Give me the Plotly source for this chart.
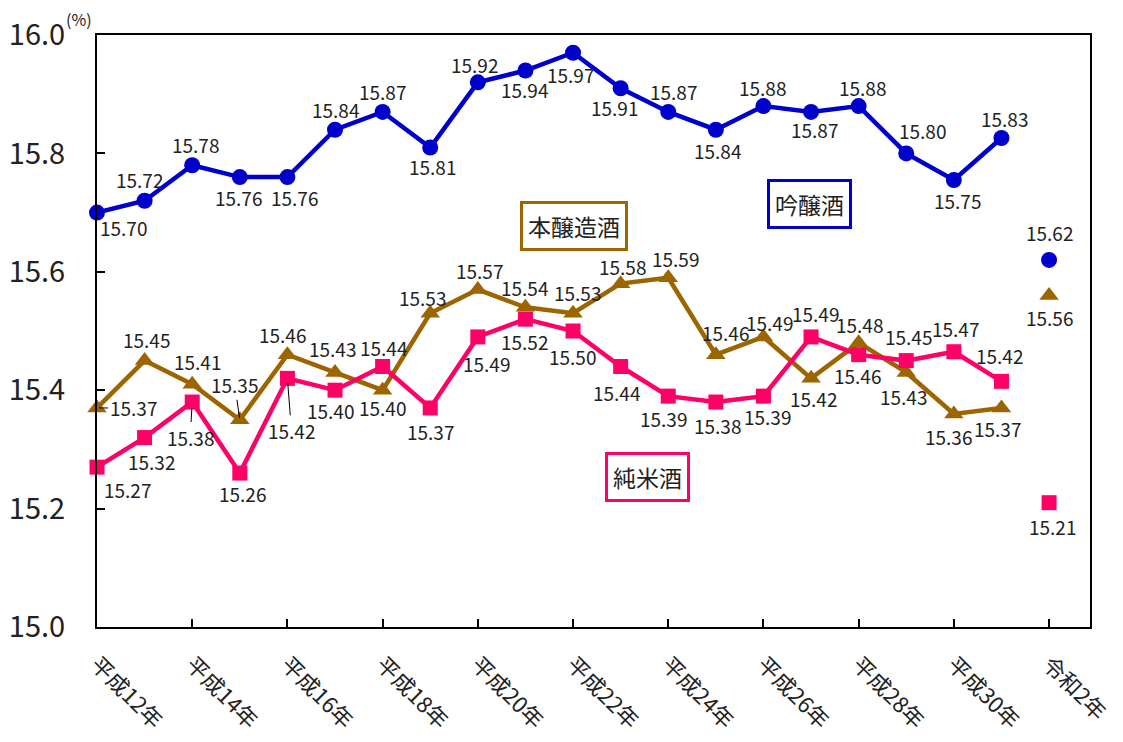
import plotly.graph_objects as go

categories = ["平成12年", "平成13年", "平成14年", "平成15年", "平成16年", "平成17年", "平成18年",
              "平成19年", "平成20年", "平成21年", "平成22年", "平成23年", "平成24年", "平成25年",
              "平成26年", "平成27年", "平成28年", "平成29年", "平成30年", "令和元年", "令和2年"]
tick_labels = ["平成12年", "平成14年", "平成16年", "平成18年", "平成20年", "平成22年",
               "平成24年", "平成26年", "平成28年", "平成30年", "令和2年"]

ginjo = [15.70, 15.72, 15.78, 15.76, 15.76, 15.84, 15.87, 15.81, 15.92, 15.94, 15.97,
         15.91, 15.87, 15.84, 15.88, 15.87, 15.88, 15.80, 15.755, 15.826, 15.62]
ginjo_text = ["15.70", "15.72", "15.78", "15.76", "15.76", "15.84", "15.87", "15.81", "15.92", "15.94", "15.97",
              "15.91", "15.87", "15.84", "15.88", "15.87", "15.88", "15.80", "15.75", "15.83", "15.62"]

honjozo = [15.37, 15.45, 15.41, 15.35, 15.46, 15.43, 15.40, 15.53, 15.57, 15.54, 15.53,
           15.58, 15.59, 15.46, 15.49, 15.42, 15.48, 15.43, 15.36, 15.37, 15.56]
honjozo_text = ["15.37", "15.45", "15.41", "15.35", "15.46", "15.43", "15.40", "15.53", "15.57", "15.54", "15.53",
                "15.58", "15.59", "15.46", "15.49", "15.42", "15.48", "15.43", "15.36", "15.37", "15.56"]

junmai = [15.27, 15.32, 15.38, 15.26, 15.42, 15.40, 15.44, 15.37, 15.49, 15.52, 15.50,
          15.44, 15.39, 15.38, 15.39, 15.49, 15.46, 15.45, 15.465, 15.415, 15.21]
junmai_text = ["15.27", "15.32", "15.38", "15.26", "15.42", "15.40", "15.44", "15.37", "15.49", "15.52", "15.50",
               "15.44", "15.39", "15.38", "15.39", "15.49", "15.46", "15.45", "15.47", "15.42", "15.21"]

# label offsets in pixels (dx, dy), and which labels have leader lines
ginjo_off = [(26, 15), (-5, -21), (3, -21), (-1, 20), (7, 20), (0, -20), (0, -20), (2, 19), (-3, -18),
             (-1, 19), (-3, 22), (-6, 19), (5, -20), (2, 21), (-1, -19), (3, 18), (4, -19), (16, -23),
             (4, 20), (3, -20), (0, -27)]
honjozo_off = [(36, 0), (2, -21), (5, -23), (-5, -35), (-5, -20), (-3, -24), (0, 17), (-8, -16), (2, -19),
               (-1, -20), (4, -21), (2, -17), (7, -19), (10, -22), (6, -14), (2, 20), (1, -18), (-3, 24),
               (-5, 23), (-4, 21), (0, 22)]
junmai_off = [(30, 22), (7, 24), (-2, 35), (3, 20), (4, 52), (-5, 20), (1, -19), (0, 24), (9, 27),
              (-1, 22), (-1, 25), (-4, 26), (-5, 22), (2, 23), (4, 20), (4, -23), (-1, 21), (2, -24),
              (2, -23), (-2, -26), (3, 24)]
honjozo_leader = {0: 2, 3: 2}
junmai_leader = {2: 6, 4: 5}

BLUE = "#0000CC"
BROWN = "#9C6500"
PINK = "#FF0066"
FONT = "Noto Sans CJK JP"

x = list(range(len(categories)))
n_line = 20

fig = go.Figure()
series = [
    ("本醸造酒", honjozo, BROWN, "triangle-up", 17),
    ("純米酒", junmai, PINK, "square", 15),
    ("吟醸酒", ginjo, BLUE, "circle", 16),
]
for name, vals, color, sym, size in series:
    fig.add_trace(go.Scatter(x=x[:n_line], y=vals[:n_line], mode="lines+markers", name=name,
                             line=dict(color=color, width=4.5),
                             marker=dict(symbol=sym, size=size, color=color), showlegend=False,
                             cliponaxis=False))
    fig.add_trace(go.Scatter(x=x[n_line:], y=vals[n_line:], mode="markers", name=name,
                             marker=dict(symbol=sym, size=size, color=color), showlegend=False,
                             cliponaxis=False))

annotations = []
for vals, texts, offs, leaders in [(ginjo, ginjo_text, ginjo_off, {}),
                                   (honjozo, honjozo_text, honjozo_off, honjozo_leader),
                                   (junmai, junmai_text, junmai_off, junmai_leader)]:
    for i, (v, t, (dx, dy)) in enumerate(zip(vals, texts, offs)):
        lead = i in leaders
        annotations.append(dict(
            x=x[i], y=v, xref="x", yref="y", text=t, showarrow=True,
            ax=dx, ay=dy, arrowhead=0, arrowwidth=1,
            arrowcolor="black" if lead else "rgba(0,0,0,0)",
            standoff=leaders.get(i, 0),
            font=dict(family=FONT, size=19, color="#222222")))

# series name boxes
for text, xc, yc, color in [("吟醸酒", 14.96, 15.715, BLUE), ("本醸造酒", 10.03, 15.677, BROWN),
                            ("純米酒", 11.56, 15.253, PINK)]:
    annotations.append(dict(x=xc, y=yc, xref="x", yref="y", text=text, showarrow=False,
                            font=dict(family=FONT, size=23, color="#222222"),
                            bordercolor=color, borderwidth=3, borderpad=5, bgcolor="white"))

annotations.append(dict(x=-0.033, y=1.027, xref="paper", yref="paper", text="(%)", showarrow=False,
                        xanchor="left", yanchor="middle",
                        font=dict(family=FONT, size=16, color="#222222")))

fig.update_layout(
    width=1123, height=742,
    margin=dict(l=97, r=33, t=35, b=115),
    paper_bgcolor="white", plot_bgcolor="white",
    annotations=annotations,
    xaxis=dict(range=[0, 20.86], tickmode="array", tickvals=x[::2], ticktext=tick_labels,
               tickangle=45, ticks="inside", ticklen=8, tickcolor="black", tickwidth=1.5,
               showline=True, linecolor="black", linewidth=2, mirror=True, automargin=False,
               showgrid=False, zeroline=False, ticklabelstandoff=14,
               tickfont=dict(family=FONT, size=22, color="#222222")),
    yaxis=dict(range=[15.0, 16.0], tickmode="array", tickvals=[15.0, 15.2, 15.4, 15.6, 15.8, 16.0],
               ticktext=["15.0", "15.2", "15.4", "15.6", "15.8", "16.0"],
               ticks="inside", ticklen=8, tickcolor="black", tickwidth=1.5,
               showline=True, linecolor="black", linewidth=2, mirror=True, automargin=False,
               showgrid=False, zeroline=False, ticklabelstandoff=24,
               tickfont=dict(family=FONT, size=29, color="#222222")),
)

fig.write_html("out.html", config={"displayModeBar": False},
               post_script="document.body.style.margin='0';document.body.style.padding='0';")
